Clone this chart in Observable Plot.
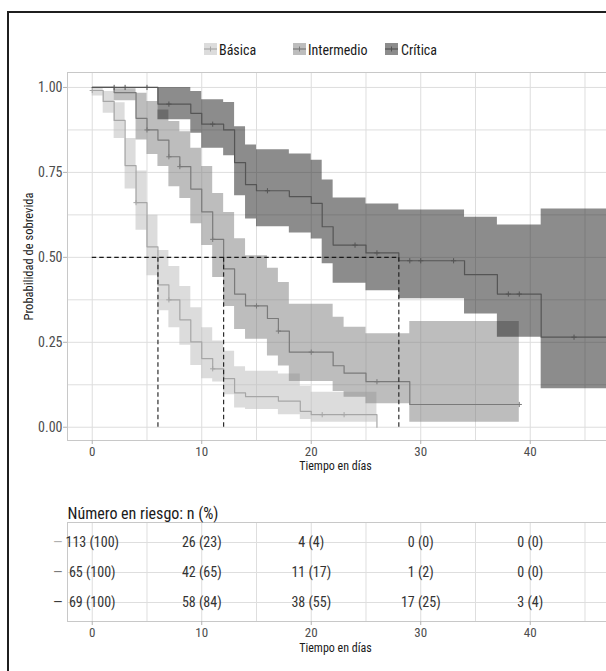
<!DOCTYPE html>
<html>
<head>
<meta charset="utf-8">
<script src="https://cdn.jsdelivr.net/npm/d3@7"></script>
<script src="https://cdn.jsdelivr.net/npm/@observablehq/plot@0.6"></script>
<style>
  html, body { margin: 0; padding: 0; background: #fff; overflow: hidden; }
  body { width: 606px; height: 671px; position: relative;
         font-family: "Liberation Sans Narrow", "Arial Narrow", "Roboto Condensed", "DejaVu Sans Condensed", sans-serif; }
  #wrap { position: absolute; left: 0; top: 0; width: 606px; height: 671px; overflow: hidden; }
  #main, #table { position: absolute; left: 0; }
  #main { top: 0; }
  #table { top: 490px; }
  #main svg, #table svg { max-width: none !important; display: block; }
  #frame { position: absolute; left: 7px; top: 11px; width: 800px; height: 900px;
           border-left: 2.5px solid #1f1f1f; border-top: 2.5px solid #1f1f1f; box-sizing: border-box; pointer-events: none; }
  .lg-key { position: absolute; top: 43px; width: 13px; height: 12px; }
  .lg-txt { position: absolute; top: 42px; font-size: 14px; color: #1a1a1a; line-height: 16px; white-space: nowrap; }
</style>
</head>
<body>
<div id="wrap">
<div id="main"></div>
<div id="table"></div>
<div id="legend"></div>
<div id="frame"></div>
</div>
<script>
// ---------- DATA ----------
const strata = ["Básica", "Intermedio", "Crítica"];

// Kaplan–Meier steps
const basicaT = [0, 1, 2, 3, 4, 5, 6, 7, 8, 9, 10, 11, 12, 13, 14, 17, 19, 20, 26];
const basicaS = [0.991, 0.959, 0.903, 0.770, 0.661, 0.531, 0.419, 0.375, 0.316, 0.251, 0.202, 0.172, 0.143, 0.101, 0.090, 0.077, 0.047, 0.037, 0];
const basicaEnd = 26;

const intermT = [0, 2, 4, 5, 6, 7, 8, 9, 10, 11, 12, 13, 14, 16, 17, 18, 22, 23, 25, 29];
const intermS = [1.0, 0.985, 0.909, 0.875, 0.845, 0.796, 0.767, 0.701, 0.634, 0.553, 0.466, 0.392, 0.357, 0.320, 0.283, 0.221, 0.181, 0.159, 0.134, 0.067];
const intermEnd = 39;

const criticaT = [0, 6, 9, 10, 12, 13, 14, 15, 18, 20, 21, 22, 25, 28, 34, 37, 41];
const criticaS = [1.0, 0.951, 0.924, 0.892, 0.875, 0.779, 0.714, 0.696, 0.679, 0.659, 0.590, 0.536, 0.513, 0.490, 0.449, 0.392, 0.265];
const criticaEnd = 48;

// Confidence bands (interval start times, lower, upper)
const basicaBandT = [0, 1, 2, 3, 4, 5, 6, 7, 8, 9, 10, 11, 12, 13, 14, 17, 19, 20];
const basicaLo = [0.975, 0.924, 0.850, 0.701, 0.580, 0.446, 0.343, 0.293, 0.241, 0.182, 0.143, 0.133, 0.096, 0.057, 0.052, 0.037, 0.023, 0.015];
const basicaHi = [1.000, 0.988, 0.955, 0.850, 0.754, 0.624, 0.520, 0.473, 0.414, 0.352, 0.293, 0.254, 0.224, 0.178, 0.165, 0.157, 0.121, 0.103];

const intermBandT = [2, 4, 5, 6, 7, 8, 9, 10, 11, 12, 13, 14, 16, 17, 18, 22, 23, 25, 29];
const intermLo = [0.961, 0.845, 0.803, 0.767, 0.708, 0.673, 0.599, 0.535, 0.441, 0.355, 0.288, 0.259, 0.210, 0.180, 0.135, 0.105, 0.088, 0.069, 0.015];
const intermHi = [0.996, 0.983, 0.959, 0.934, 0.900, 0.870, 0.821, 0.767, 0.688, 0.632, 0.555, 0.505, 0.468, 0.426, 0.362, 0.324, 0.294, 0.275, 0.311];

const criticaBandT = [6, 9, 10, 12, 13, 14, 15, 18, 20, 21, 22, 25, 28, 34, 37, 41];
const criticaLo = [0.905, 0.865, 0.821, 0.799, 0.681, 0.613, 0.590, 0.572, 0.554, 0.481, 0.424, 0.402, 0.378, 0.333, 0.265, 0.113];
const criticaHi = [1.000, 0.988, 0.964, 0.956, 0.884, 0.831, 0.817, 0.804, 0.786, 0.728, 0.675, 0.657, 0.639, 0.618, 0.595, 0.642];

// Censoring marks (times)
const basicaCens = [0, 4, 7, 11, 21, 23];
const intermCens = [5, 7, 8, 11, 15, 17, 20, 26, 39];
const criticaCens = [2, 3, 5, 7, 11, 16, 24, 26, 29, 30, 33, 38, 39, 44];

// Median survival times
const medians = [6, 12, 28];

// Risk table
const riskTimes = [0, 10, 20, 30, 40];
const basicaRisk = [113, 26, 4, 0, 0];
const basicaPct = [100, 23, 4, 0, 0];
const intermRisk = [65, 42, 11, 1, 0];
const intermPct = [100, 65, 17, 2, 0];
const criticaRisk = [69, 58, 38, 17, 3];
const criticaPct = [100, 84, 55, 25, 4];

// Tick labels / texts
const xTicks = [0, 10, 20, 30, 40];
const yTicks = [0, 0.25, 0.5, 0.75, 1];
const xTitle = "Tiempo en días";
const yTitle = "Probabilidad de sobrevida";
const tableTitle = "Número en riesgo: n (%)";

// ---------- STYLE ----------
const FONT = '"Liberation Sans Narrow", "Arial Narrow", "Roboto Condensed", "DejaVu Sans Condensed", sans-serif';
const bandColor = {"Básica": "#b9b9b9", "Intermedio": "#7b7b7b", "Crítica": "#191919"};
const lineColor = {"Básica": "#a6a6a6", "Intermedio": "#7a7a7a", "Crítica": "#555555"};
const keyFill = {"Básica": "#dcdcdc", "Intermedio": "#bdbdbd", "Crítica": "#8c8c8c"};
const dashColor = {"Básica": "#b0b0b0", "Intermedio": "#7a7a7a", "Crítica": "#3a3a3a"};
const gridColor = "#dedede";
const W = 640;
const xDomain = [-2.26, 50.07];

// ---------- BUILD ----------
const series = [
  {name: "Básica", T: basicaT, S: basicaS, end: basicaEnd, bT: basicaBandT, lo: basicaLo, hi: basicaHi, cens: basicaCens},
  {name: "Intermedio", T: intermT, S: intermS, end: intermEnd, bT: intermBandT, lo: intermLo, hi: intermHi, cens: intermCens},
  {name: "Crítica", T: criticaT, S: criticaS, end: criticaEnd, bT: criticaBandT, lo: criticaLo, hi: criticaHi, cens: criticaCens}
];

function stepPoints(sr) {
  const pts = sr.T.map((t, i) => ({t, s: sr.S[i]}));
  if (sr.end > sr.T[sr.T.length - 1]) pts.push({t: sr.end, s: sr.S[sr.S.length - 1]});
  return pts;
}
function bandPoints(sr) {
  const pts = sr.bT.map((t, i) => ({t, lo: sr.lo[i], hi: sr.hi[i]}));
  pts.push({t: sr.end, lo: sr.lo[sr.lo.length - 1], hi: sr.hi[sr.hi.length - 1]});
  return pts;
}
function survAt(sr, t) {
  let v = sr.S[0];
  for (let i = 0; i < sr.T.length; i++) if (sr.T[i] <= t) v = sr.S[i];
  return v;
}
const plusSymbol = {
  draw(ctx, size) {
    const r = Math.sqrt(size / Math.PI);
    ctx.moveTo(-r, 0); ctx.lineTo(r, 0);
    ctx.moveTo(0, -r); ctx.lineTo(0, r);
  }
};

const marks = [
  Plot.ruleX(d3.range(0, 51, 5), {stroke: gridColor, strokeWidth: 1}),
  Plot.ruleY(d3.range(0, 1.0001, 0.125), {stroke: gridColor, strokeWidth: 1}),
  Plot.frame({stroke: "#c8c8c8"})
];
for (const sr of series) {
  marks.push(Plot.areaY(bandPoints(sr), {x: "t", y1: "lo", y2: "hi", curve: "step-after",
    fill: bandColor[sr.name], fillOpacity: 0.5}));
}
for (const sr of series) {
  marks.push(Plot.line(stepPoints(sr), {x: "t", y: "s", curve: "step-after",
    stroke: lineColor[sr.name], strokeWidth: 1.2}));
  marks.push(Plot.dot(sr.cens.map(t => ({t, s: survAt(sr, t)})), {x: "t", y: "s",
    symbol: plusSymbol, r: 2.6, fill: "none", stroke: lineColor[sr.name], strokeWidth: 1}));
}
marks.push(
  Plot.ruleY([0.5], {x1: () => 0, x2: () => d3.max(medians), stroke: "#1a1a1a", strokeWidth: 1.1, strokeDasharray: "4.5,3"}),
  Plot.ruleX(medians, {x: d => d, y1: () => 0, y2: () => 0.5, stroke: "#1a1a1a", strokeWidth: 1.1, strokeDasharray: "4.5,3"}),
  Plot.axisX({ticks: xTicks, tickSize: 4, tickPadding: 2, stroke: "#b3b3b3", fill: "#4d4d4d", fontSize: 13, label: null}),
  Plot.axisY({ticks: yTicks, tickFormat: d3.format(".2f"), tickSize: 4, tickPadding: 1, stroke: "#b3b3b3", fill: "#4d4d4d", fontSize: 14, label: null}),
  Plot.text([xTitle], {frameAnchor: "bottom", dx: -18.5, dy: 29, fontSize: 12, fill: "#1a1a1a"}),
  Plot.text([yTitle], {frameAnchor: "left", textAnchor: "middle", rotate: -90, dx: -39, fontSize: 12.5, fill: "#1a1a1a"})
);

const main = Plot.plot({
  width: W, height: 480,
  marginLeft: 67, marginRight: 0, marginTop: 72, marginBottom: 40,
  x: {domain: xDomain},
  y: {domain: [-0.039, 1.044]},
  style: {fontFamily: FONT, fontSize: "14px", background: "transparent", overflow: "visible", maxWidth: "none"},
  marks
});
document.getElementById("main").appendChild(main);

// ---------- RISK TABLE ----------
const riskData = [];
const riskSets = {"Básica": [basicaRisk, basicaPct], "Intermedio": [intermRisk, intermPct], "Crítica": [criticaRisk, criticaPct]};
for (const s of strata) {
  riskTimes.forEach((t, i) => riskData.push({t, stratum: s, label: `${riskSets[s][0][i]} (${riskSets[s][1][i]})`}));
}
const tMarks = [
  Plot.ruleX(d3.range(0, 51, 5), {stroke: gridColor, strokeWidth: 1}),
  Plot.ruleY(strata, {y: d => d, stroke: gridColor, strokeWidth: 1}),
  Plot.frame({stroke: "#c8c8c8"}),
  Plot.text(riskData, {x: "t", y: "stratum", text: "label", fontSize: 14, fill: "#333333"}),
  ...strata.map(s => Plot.text([s], {y: d => d, frameAnchor: "left", dx: -5, textAnchor: "end", text: () => "—", fontSize: 14, fill: dashColor[s]})),
  Plot.axisX({ticks: xTicks, tickSize: 4, tickPadding: 2, stroke: "#b3b3b3", fill: "#4d4d4d", fontSize: 13, label: null}),
  Plot.text([xTitle], {frameAnchor: "bottom", dx: -18.5, dy: 30, fontSize: 12, fill: "#1a1a1a"}),
  Plot.text([tableTitle], {frameAnchor: "top-left", dy: -15, textAnchor: "start", fontSize: 16, fill: "#1a1a1a"})
];
const table = Plot.plot({
  width: W, height: 181,
  marginLeft: 67, marginRight: 0, marginTop: 32, marginBottom: 50,
  x: {domain: xDomain},
  y: {type: "point", domain: strata, padding: 0.62, axis: null},
  style: {fontFamily: FONT, fontSize: "14px", background: "transparent", overflow: "visible", maxWidth: "none"},
  marks: tMarks
});
document.getElementById("table").appendChild(table);

// ---------- LEGEND ----------
const legend = document.getElementById("legend");
const keyLeft = [204, 293, 385];
const txtLeft = [219, 308, 401];
strata.forEach((s, i) => {
  const key = document.createElement("div");
  key.className = "lg-key";
  key.style.left = keyLeft[i] + "px";
  key.style.background = keyFill[s];
  key.innerHTML = `<svg width="13" height="12" style="display:block"><line x1="0" y1="6" x2="13" y2="6" stroke="${lineColor[s]}" stroke-width="1.2"/><line x1="6.5" y1="3.5" x2="6.5" y2="8.5" stroke="${lineColor[s]}" stroke-width="1"/></svg>`;
  legend.appendChild(key);
  const txt = document.createElement("div");
  txt.className = "lg-txt";
  txt.style.left = txtLeft[i] + "px";
  txt.textContent = s;
  legend.appendChild(txt);
});
</script>
</body>
</html>
